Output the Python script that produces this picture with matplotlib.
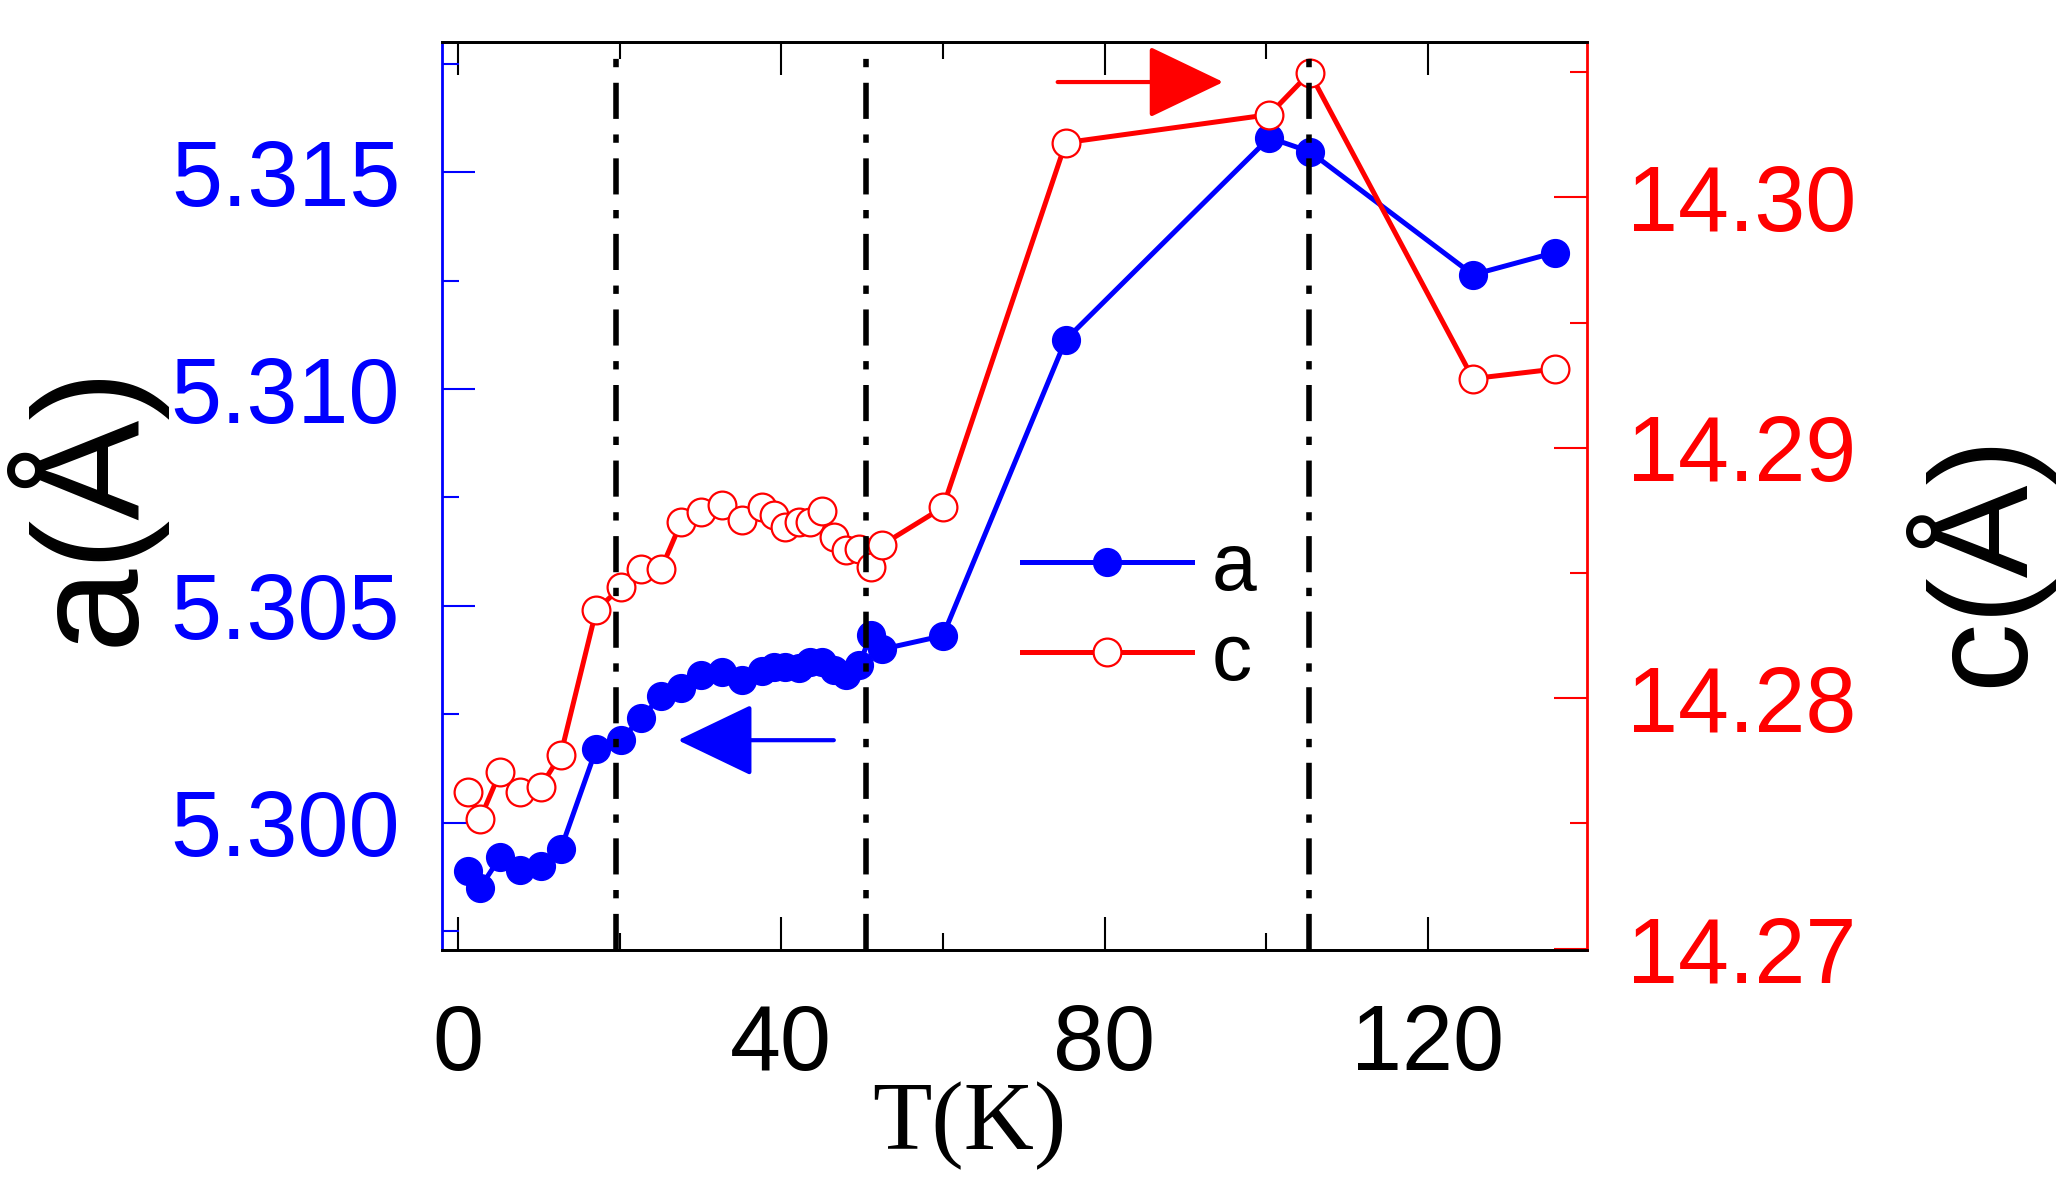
import matplotlib
matplotlib.use("Agg")
import matplotlib.pyplot as plt
from matplotlib.ticker import MultipleLocator, FormatStrFormatter

plt.rcParams["font.family"] = ["Liberation Sans", "DejaVu Sans"]

# temperatures (K) and lattice parameters
temps = [1.2, 2.7, 5.2, 7.7, 10.2, 12.7, 17.1, 20.2, 22.6, 25.1, 27.6, 30.1,
         32.6, 35.1, 37.6, 39.1, 40.5, 42.2, 43.6, 45.0, 46.5, 48.0, 49.6,
         51.1, 52.5, 60.0, 75.2, 100.4, 105.4, 125.6, 135.7]
a_vals = [5.29889, 5.29849, 5.29920, 5.29891, 5.29900, 5.29938, 5.30170,
          5.30191, 5.30241, 5.30291, 5.30310, 5.30341, 5.30348, 5.30329,
          5.30350, 5.30360, 5.30360, 5.30356, 5.30371, 5.30371, 5.30352,
          5.30341, 5.30364, 5.30433, 5.30400, 5.30431, 5.31114, 5.31580,
          5.31548, 5.31264, 5.31315]
c_vals = [14.27626, 14.27516, 14.27706, 14.27626, 14.27646, 14.27775,
          14.28353, 14.28443, 14.28514, 14.28514, 14.28702, 14.28742,
          14.28772, 14.28711, 14.28764, 14.28731, 14.28682, 14.28702,
          14.28702, 14.28746, 14.28645, 14.28591, 14.28596, 14.28525,
          14.28613, 14.28762, 14.30218, 14.30330, 14.30497, 14.29276,
          14.29314]
transitions = [19.5, 50.5, 105.3]

fig = plt.figure(figsize=(20.69, 11.82), dpi=100)
ax = fig.add_axes([0.2136, 0.1963, 0.5534, 0.7682])
ax2 = ax.twinx()

line_a, = ax.plot(temps, a_vals, color="blue", lw=3.6, marker="o", ms=20,
                  mfc="blue", mec="blue", label="a")
line_c, = ax2.plot(temps, c_vals, color="red", lw=3.6, marker="o", ms=20,
                   mfc="white", mec="red", mew=1.6, label="c")
for t in transitions:
    ax2.axvline(t, color="black", lw=4, ls=(0, (6.5, 2.8, 1.5, 2.8)), zorder=5)

# direction arrows
ax.annotate("", xy=(27.2, 5.3019), xytext=(46.5, 5.3019),
            arrowprops=dict(arrowstyle="-|>,head_length=0.48,head_width=0.23",
                            color="blue", lw=3, mutation_scale=100,
                            shrinkA=0, shrinkB=0))
ax2.annotate("", xy=(94.7, 14.3046), xytext=(74.2, 14.3046),
             arrowprops=dict(arrowstyle="-|>,head_length=0.48,head_width=0.23",
                             color="red", lw=3, mutation_scale=100,
                             shrinkA=0, shrinkB=0))

ax.set_xlim(-2, 139.7)
ax.set_ylim(5.29706, 5.31801)
ax2.set_ylim(14.26995, 14.3062)

ax.xaxis.set_major_locator(MultipleLocator(40))
ax.xaxis.set_minor_locator(MultipleLocator(20))
ax.yaxis.set_major_locator(MultipleLocator(0.005))
ax.yaxis.set_minor_locator(MultipleLocator(0.0025))
ax.yaxis.set_major_formatter(FormatStrFormatter("%.3f"))
ax2.yaxis.set_major_locator(MultipleLocator(0.01))
ax2.yaxis.set_minor_locator(MultipleLocator(0.005))
ax2.yaxis.set_major_formatter(FormatStrFormatter("%.2f"))

for sp in ("top", "bottom"):
    ax.spines[sp].set_linewidth(2)
    ax2.spines[sp].set_linewidth(2)
ax.spines["left"].set_color("blue")
ax.spines["left"].set_linewidth(2)
ax.spines["right"].set_visible(False)
ax2.spines["left"].set_visible(False)
ax2.spines["right"].set_color("red")
ax2.spines["right"].set_linewidth(2)

ax.tick_params(axis="x", which="both", direction="in", top=True, bottom=True,
               width=1.5, labelsize=66, pad=38, colors="black")
ax.tick_params(axis="x", which="major", length=24)
ax.tick_params(axis="x", which="minor", length=12)
ax.tick_params(axis="y", which="both", direction="in", left=True, right=False,
               width=1.5, labelsize=66, pad=30, colors="blue")
ax.tick_params(axis="y", which="major", length=24)
ax.tick_params(axis="y", which="minor", length=12)
ax2.tick_params(axis="y", which="both", direction="in", right=True, left=False,
                width=1.5, labelsize=66, pad=29, colors="red")
ax2.tick_params(axis="y", which="major", length=24)
ax2.tick_params(axis="y", which="minor", length=12)

ax.set_xlabel("T(K)", fontfamily="Liberation Serif", fontsize=70)
ax.xaxis.set_label_coords(0.461, -0.145)
ax.set_ylabel("a(Å)", fontsize=108, color="black", ha="center", va="center")
ax.yaxis.set_label_coords(-0.314, 0.491)
ax2.set_ylabel("c(Å)", fontsize=100, color="black", ha="center", va="center")
ax2.yaxis.set_label_coords(1.34, 0.43)

ax2.legend(handles=[line_a, line_c], loc="center left",
           bbox_to_anchor=(0.507, 0.37), frameon=False, fontsize=58,
           handlelength=2.1, handletextpad=0.25, borderpad=0,
           borderaxespad=0, labelspacing=0.18)

fig.savefig("out.png", dpi=100)
